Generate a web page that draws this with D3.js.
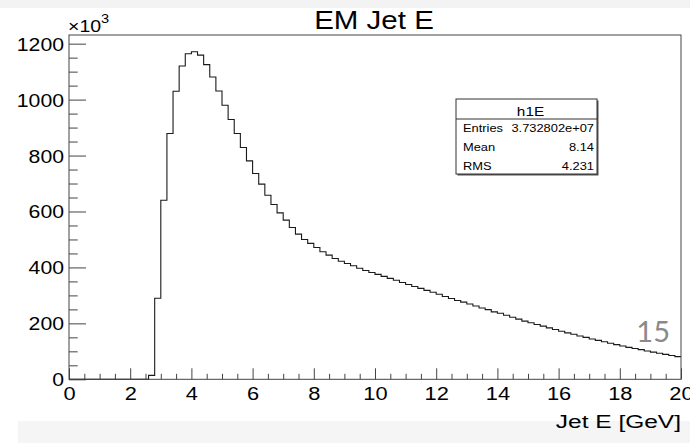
<!DOCTYPE html>
<html>
<head>
<meta charset="utf-8">
<script src="https://cdn.jsdelivr.net/npm/d3@7"></script>
<style>
  html, body { margin: 0; padding: 0; background: #fff; }
  svg { display: block; font-family: "Liberation Sans", Arial, Helvetica, sans-serif; }
</style>
</head>
<body>
<svg id="chart" width="690" height="443"></svg>
<script>
// Histogram h1E: EM jet energy, 100 bins of 0.2 GeV from 0 to 20 GeV (counts in units of 10^3)
const xMin = 0, xMax = 20, binWidth = 0.2;
const counts = [
  0, 0, 0, 0, 0, 0, 0, 0, 0, 0, 0, 0, 0,          // 0.0 - 2.6
  14, 290, 640, 879, 1030, 1120, 1164, 1171, 1159, // 2.6 - 4.4
  1125, 1081, 1031, 980, 929, 879, 829, 781,       // 4.4 - 6.0
  736, 698, 658, 625, 595, 569, 543, 519,          // 6.0 - 7.6
  500, 486, 471, 456, 444, 432, 422, 414,          // 7.6 - 9.2
  406, 397, 389, 382, 375, 368, 361, 354,          // 9.2 - 10.8
  346, 339, 332, 325, 318, 311, 304, 296,          // 10.8 - 12.4
  289, 282, 276, 269, 262, 255, 249, 241,          // 12.4 - 14.0
  236, 229, 222, 215, 208, 202, 196, 190,          // 14.0 - 15.6
  184, 178, 172, 166, 161, 155, 150, 144,          // 15.6 - 17.2
  139, 134, 129, 124, 119, 114, 110, 106,          // 17.2 - 18.8
  101, 97, 93, 89, 85, 81                          // 18.8 - 20.0
];
const xMajorTicks = [0, 2, 4, 6, 8, 10, 12, 14, 16, 18, 20];
const yMajorTicks = [0, 200, 400, 600, 800, 1000, 1200];
const statsRows = [
  ["Entries", "3.732802e+07"],
  ["Mean", "8.14"],
  ["RMS", "4.231"]
];
const histName = "h1E";
const title = "EM Jet E";
const xTitle = "Jet E [GeV]";
const yMax = 1231;

const svg = d3.select("#chart");
const W = 690, H = 443;
const frame = { left: 69, right: 681, top: 35, bottom: 379.3 };
const SX = 1.18;           // horizontal stretch of the canvas text
const ink = "#444";

// page strips
svg.append("rect").attr("x", 0).attr("y", 0).attr("width", W).attr("height", 8).attr("fill", "#f3f3f3");
svg.append("rect").attr("x", 18).attr("y", 421).attr("width", W - 18).attr("height", 22).attr("fill", "#f5f5f5");

const x = d3.scaleLinear().domain([xMin, xMax]).range([frame.left, frame.right]);
const y = d3.scaleLinear().domain([0, yMax]).range([frame.bottom, frame.top]);

function stretched(parent, px, py, str, size, anchor, sx) {
  return parent.append("text")
    .attr("transform", `translate(${px},${py}) scale(${sx || SX},1)`)
    .attr("text-anchor", anchor || "start")
    .attr("font-size", size)
    .attr("fill", "#000")
    .text(str);
}

// minor ticks
const xMinor = d3.range(xMin, xMax + 1e-9, 0.5).filter(v => !xMajorTicks.includes(v));
const yMinor = d3.range(0, yMax, 50).filter(v => !yMajorTicks.includes(v));

svg.append("g")
  .attr("transform", `translate(0,${frame.bottom})`)
  .call(d3.axisBottom(x).tickValues(xMinor).tickSize(-5.5).tickFormat(""))
  .call(g => g.select(".domain").remove())
  .call(g => g.selectAll("line").attr("stroke", ink));

svg.append("g")
  .attr("transform", `translate(${frame.left},0)`)
  .call(d3.axisLeft(y).tickValues(yMinor).tickSize(-8.7).tickFormat(""))
  .call(g => g.select(".domain").remove())
  .call(g => g.selectAll("line").attr("stroke", ink));

// major ticks + labels
const xAxis = svg.append("g")
  .attr("transform", `translate(0,${frame.bottom})`)
  .call(d3.axisBottom(x).tickValues(xMajorTicks).tickSize(-11).tickFormat(d3.format("d")))
  .call(g => g.select(".domain").remove())
  .call(g => g.selectAll("line").attr("stroke", ink));
xAxis.selectAll("text")
  .attr("y", null).attr("dy", null)
  .attr("transform", `translate(0,20.5) scale(${SX},1)`)
  .attr("font-size", 18.5).attr("font-family", null).attr("fill", "#000");

const yAxis = svg.append("g")
  .attr("transform", `translate(${frame.left},0)`)
  .call(d3.axisLeft(y).tickValues(yMajorTicks).tickSize(-17).tickFormat(d3.format("d")))
  .call(g => g.select(".domain").remove())
  .call(g => g.selectAll("line").attr("stroke", ink));
yAxis.selectAll("text")
  .attr("x", null).attr("dy", null)
  .attr("transform", `translate(-5,6.5) scale(${SX},1)`)
  .attr("font-size", 18).attr("font-family", null).attr("fill", "#000");

// histogram outline
const pts = counts.map((c, i) => [xMin + i * binWidth, c]);
pts.push([xMax, counts[counts.length - 1]]);
svg.append("path")
  .datum(pts)
  .attr("fill", "none")
  .attr("stroke", "#1a1a1a")
  .attr("stroke-width", 1.1)
  .attr("d", d3.line().x(d => x(d[0])).y(d => y(d[1])).curve(d3.curveStepAfter));

// frame
svg.append("rect")
  .attr("x", frame.left).attr("y", frame.top)
  .attr("width", frame.right - frame.left).attr("height", frame.bottom - frame.top)
  .attr("fill", "none").attr("stroke", ink).attr("stroke-width", 1);

// exponent label
const expo = stretched(svg, 68, 32.3, "", 16, "start", 1.22);
expo.append("tspan").text("\u00d710");
expo.append("tspan").attr("dy", -9).attr("font-size", 12).text("3");

// title
stretched(svg, 374, 29, title, 25, "middle");

// axis title
stretched(svg, 681, 427.5, xTitle, 19, "end", 1.29);

// statistics box
const box = { x: 456, y: 99, w: 141, h: 75, head: 20 };
svg.append("rect").attr("x", box.x + 1.5).attr("y", box.y + 1.5).attr("width", box.w).attr("height", box.h).attr("fill", "#555");
svg.append("rect").attr("x", box.x).attr("y", box.y).attr("width", box.w).attr("height", box.h)
  .attr("fill", "#fff").attr("stroke", "#333").attr("stroke-width", 1);
svg.append("line").attr("x1", box.x).attr("x2", box.x + box.w)
  .attr("y1", box.y + box.head).attr("y2", box.y + box.head).attr("stroke", "#333");
stretched(svg, box.x + box.w / 2 + 4, box.y + 17, histName, 13, "middle");
statsRows.forEach((r, i) => {
  const by = box.y + 32.5 + i * 19;
  stretched(svg, box.x + 7, by, r[0], 11.5, "start", 1.12);
  stretched(svg, box.x + box.w - 3, by, r[1], 11.5, "end", 1.12);
});

// page number
svg.append("text").attr("x", 670).attr("y", 342).attr("text-anchor", "end")
  .attr("font-family", "Lato, 'Open Sans', sans-serif").attr("font-size", 29)
  .attr("fill", "#8a8a8a").text("15");
</script>
</body>
</html>
